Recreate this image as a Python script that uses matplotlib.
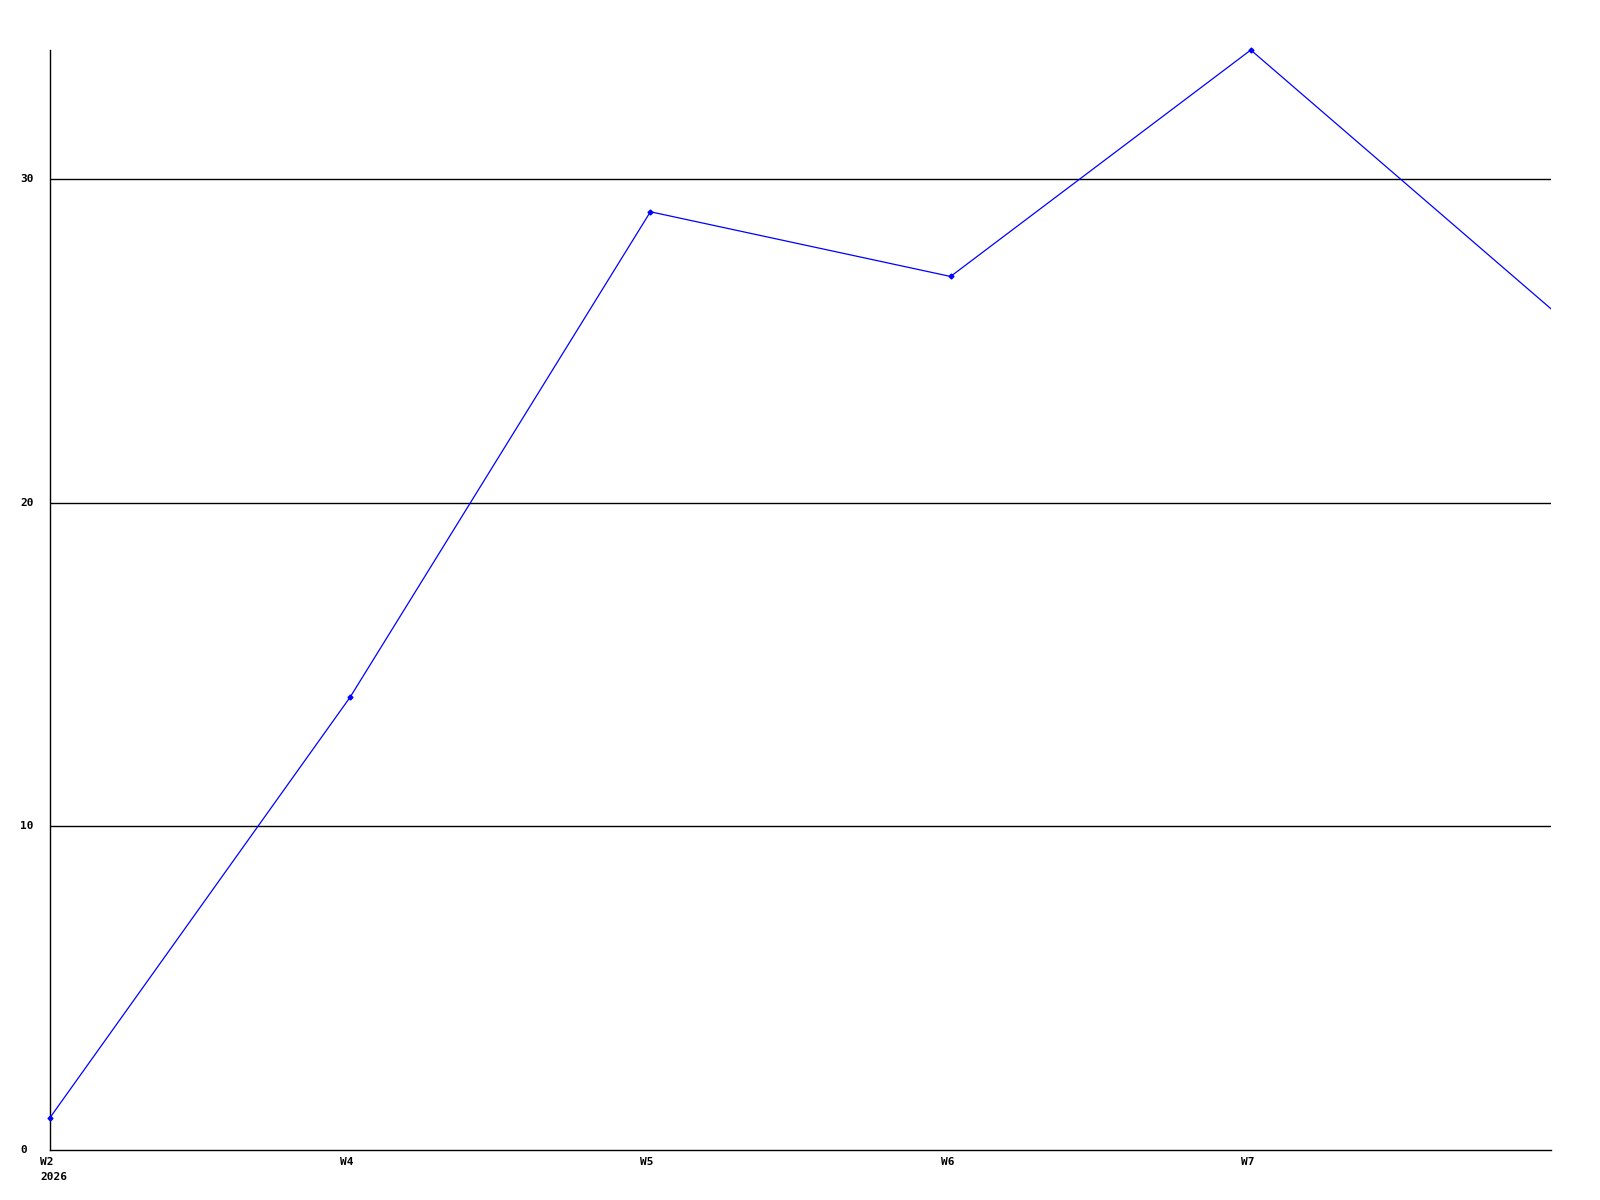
import matplotlib
matplotlib.use('Agg')
import matplotlib.pyplot as plt
import matplotlib.transforms as mtransforms

weeks = ['W2', 'W4', 'W5', 'W6', 'W7', '']
values = [1, 14, 29, 27, 34, 26]
yticks = [0, 10, 20, 30]
year = '2026'

fig = plt.figure(figsize=(16, 12), dpi=100)
ax = fig.add_axes([50 / 1600, 1 - 1150 / 1200, 1501 / 1600, 1100 / 1200])

x = list(range(len(values)))
ax.plot(x, values, color='#0000ff', lw=0.9, zorder=3)
# the last point has no marker (it sits on the right edge)
ax.plot(x[:-1], values[:-1], ls='none', color='#0000ff', marker='D', ms=2.5,
        clip_on=False, zorder=4)

ax.set_xlim(0, len(values) - 1)
ax.set_ylim(0, 34)

for s in ['top', 'right']:
    ax.spines[s].set_visible(False)
for s in ['left', 'bottom']:
    ax.spines[s].set_linewidth(1.0)

for y in yticks[1:]:
    ax.axhline(y, color='black', lw=1.0, zorder=1)

ax.set_xticks([])
ax.set_yticks([])

font = dict(family='DejaVu Sans Mono', fontweight='bold', fontsize=8)

# y labels left-aligned near the figure edge
ytrans = mtransforms.blended_transform_factory(fig.transFigure, ax.transData)
for y in yticks:
    ax.text(20 / 1600, y, str(y), transform=ytrans, ha='left', va='center', **font)

# x labels start a little left of their tick
xtrans = mtransforms.offset_copy(ax.get_xaxis_transform(), fig=fig, x=-10, y=-12, units='dots')
for i, w in enumerate(weeks):
    if w:
        ax.text(i, 0, w, transform=xtrans, ha='left', va='center', **font)
ytrans2 = mtransforms.offset_copy(ax.get_xaxis_transform(), fig=fig, x=-10, y=-27, units='dots')
ax.text(0, 0, year, transform=ytrans2, ha='left', va='center', **font)

fig.savefig('out.png', dpi=100)
